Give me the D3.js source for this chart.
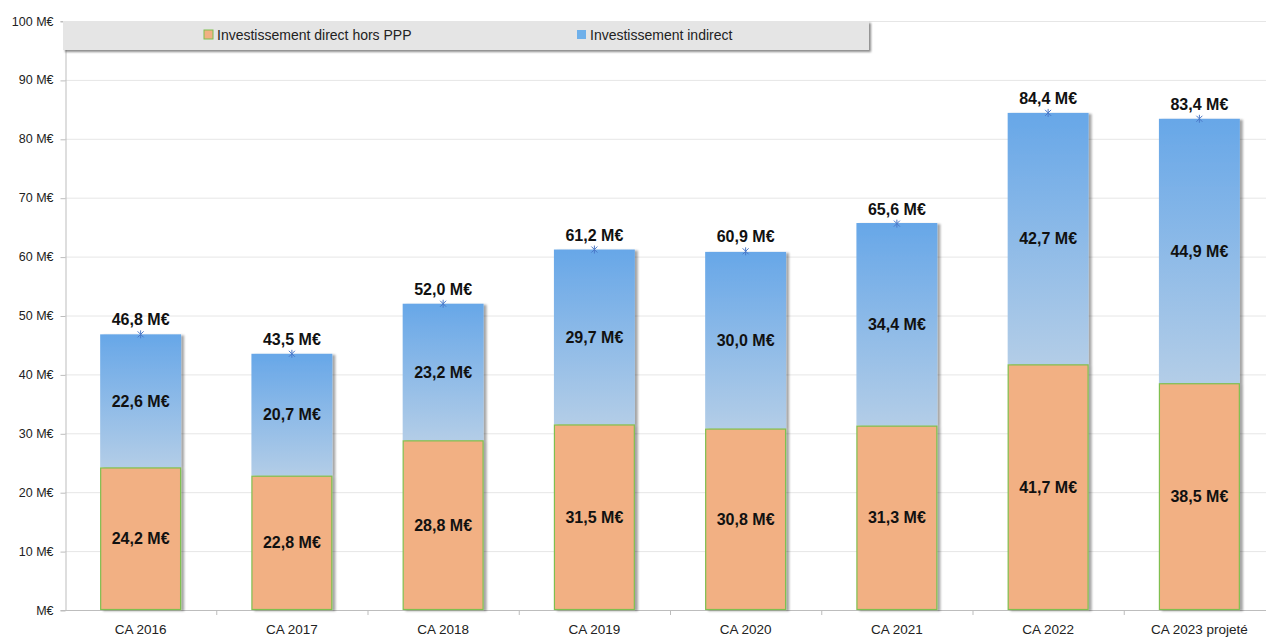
<!DOCTYPE html>
<html>
<head>
<meta charset="utf-8">
<script src="https://cdn.jsdelivr.net/npm/d3@7"></script>
<style>
  html, body { margin: 0; padding: 0; background: #fff; }
  svg { display: block; font-family: "Noto Sans", "DejaVu Sans", sans-serif; }
</style>
</head>
<body>
<svg id="chart" width="1266" height="637"></svg>
<script>
// Budget d'investissement par exercice (millions d'euros)
const categories = ["CA 2016", "CA 2017", "CA 2018", "CA 2019", "CA 2020", "CA 2021", "CA 2022", "CA 2023 projeté"];
const directHorsPPP = [24.2, 22.8, 28.8, 31.5, 30.8, 31.3, 41.7, 38.5];
const indirect = [22.6, 20.7, 23.2, 29.7, 30.0, 34.4, 42.7, 44.9];
const totals = [46.8, 43.5, 52.0, 61.2, 60.9, 65.6, 84.4, 83.4];
const yTicks = [0, 10, 20, 30, 40, 50, 60, 70, 80, 90, 100];
const seriesNames = ["Investissement direct hors PPP", "Investissement indirect"];

const fmt = v => d3.format(".1f")(v).replace(".", ",") + " M€";
const tickFmt = v => (v === 0 ? "" : v + " ") + "M€";

const svg = d3.select("#chart");
const margin = { left: 65, right: -9, top: 21, bottom: 27 };
const W = 1266, H = 637;

const x = d3.scaleBand().domain(categories).range([margin.left, W - margin.right]).paddingInner(0.465).paddingOuter(0.2325);
const y = d3.scaleLinear().domain([0, 100]).range([H - margin.bottom, margin.top]);

const defs = svg.append("defs");
const grad = defs.append("linearGradient").attr("id", "blueGrad").attr("x1", 0).attr("y1", 0).attr("x2", 0).attr("y2", 1);
grad.append("stop").attr("offset", "0%").attr("stop-color", "#67a7e8");
grad.append("stop").attr("offset", "100%").attr("stop-color", "#b3cde7");

const shadow = defs.append("filter").attr("id", "barShadow").attr("x", "-10%").attr("y", "-10%").attr("width", "130%").attr("height", "120%");
shadow.append("feDropShadow").attr("dx", 3).attr("dy", 1).attr("stdDeviation", 1.3).attr("flood-color", "#000").attr("flood-opacity", 0.35);

const legShadow = defs.append("filter").attr("id", "legShadow").attr("x", "-5%").attr("y", "-20%").attr("width", "110%").attr("height", "160%");
legShadow.append("feDropShadow").attr("dx", 2).attr("dy", 2).attr("stdDeviation", 1.2).attr("flood-color", "#000").attr("flood-opacity", 0.45);

// Grid lines
svg.append("g").selectAll("line").data(yTicks.filter(d => d > 0)).join("line")
  .attr("x1", margin.left).attr("x2", W)
  .attr("y1", d => y(d) + 0.5).attr("y2", d => y(d) + 0.5)
  .attr("stroke", "#e6e6e6").attr("stroke-width", 1);

// Y axis
const yAxis = svg.append("g").attr("transform", `translate(${margin.left + 0.5},0)`)
  .call(d3.axisLeft(y).tickValues(yTicks).tickFormat(tickFmt).tickSize(5).tickPadding(7));
yAxis.select(".domain").attr("stroke", "#bdbdbd");
yAxis.selectAll(".tick line").attr("stroke", "#bdbdbd").attr("transform", "translate(0,0.5)");
yAxis.selectAll(".tick text").attr("font-size", 12.5).attr("fill", "#222").attr("font-family", "Liberation Sans, sans-serif");

// X axis
const xAxis = svg.append("g").attr("transform", `translate(0,${y(0) + 0.5})`)
  .call(d3.axisBottom(x).tickSize(0).tickPadding(14));
xAxis.select(".domain").attr("stroke", "#bdbdbd").attr("d", `M${margin.left},0H${W}`);
xAxis.selectAll(".tick text").attr("font-size", 13.5).attr("fill", "#222").attr("font-family", "Liberation Sans, sans-serif");
// separators between categories
svg.append("g").selectAll("line").data(categories.slice(1)).join("line")
  .attr("x1", d => x(d) - x.step() * x.paddingInner() / 2 + 0.5)
  .attr("x2", d => x(d) - x.step() * x.paddingInner() / 2 + 0.5)
  .attr("y1", y(0)).attr("y2", y(0) + 5)
  .attr("stroke", "#bdbdbd");

// Stacked bars
const bars = svg.append("g");
categories.forEach((c, i) => {
  const g = bars.append("g").attr("filter", "url(#barShadow)");
  g.append("rect")
    .attr("x", x(c)).attr("width", x.bandwidth())
    .attr("y", y(directHorsPPP[i] + indirect[i])).attr("height", y(directHorsPPP[i]) - y(directHorsPPP[i] + indirect[i]))
    .attr("fill", "url(#blueGrad)");
  g.append("rect")
    .attr("x", x(c) + 0.5).attr("width", x.bandwidth() - 1)
    .attr("y", y(directHorsPPP[i]) + 0.5).attr("height", y(0) - y(directHorsPPP[i]) - 1)
    .attr("fill", "#f2b083").attr("stroke", "#7fbf4f").attr("stroke-width", 1.2);
});

// Segment labels
const labels = svg.append("g").attr("font-family", "Liberation Sans, sans-serif").attr("font-weight", "bold")
  .attr("font-size", 16).attr("fill", "#111").attr("text-anchor", "middle");
categories.forEach((c, i) => {
  const cx = x(c) + x.bandwidth() / 2;
  labels.append("text").attr("x", cx).attr("y", y(directHorsPPP[i] / 2)).attr("dy", "0.35em").text(fmt(directHorsPPP[i]));
  labels.append("text").attr("x", cx).attr("y", y(directHorsPPP[i] + indirect[i] / 2)).attr("dy", "0.35em").text(fmt(indirect[i]));
  labels.append("text").attr("x", cx).attr("y", y(totals[i]) - 9).text(fmt(totals[i]));
});

// Total markers
const markers = svg.append("g").attr("stroke", "#4a78c8").attr("stroke-width", 1);
categories.forEach((c, i) => {
  const cx = x(c) + x.bandwidth() / 2, cy = y(totals[i]);
  markers.append("path").attr("d", `M${cx - 3},${cy - 3}L${cx + 3},${cy + 3}M${cx - 3},${cy + 3}L${cx + 3},${cy - 3}M${cx},${cy - 4}V${cy + 4}`);
});

// Legend
const leg = svg.append("g");
leg.append("rect").attr("x", 63).attr("y", 21).attr("width", 806).attr("height", 29)
  .attr("fill", "#e5e5e5").attr("filter", "url(#legShadow)");
const legItems = [
  { name: seriesNames[0], sx: 204, fill: "#f2b083", stroke: "#7fbf4f" },
  { name: seriesNames[1], sx: 577, fill: "#6fb0ea", stroke: "none" }
];
legItems.forEach(d => {
  leg.append("rect").attr("x", d.sx).attr("y", 30).attr("width", 9).attr("height", 9)
    .attr("fill", d.fill).attr("stroke", d.stroke);
  leg.append("text").attr("x", d.sx + 13).attr("y", 40).attr("font-size", 14)
    .attr("font-family", "Liberation Sans, sans-serif").attr("fill", "#222").text(d.name);
});
</script>
</body>
</html>
